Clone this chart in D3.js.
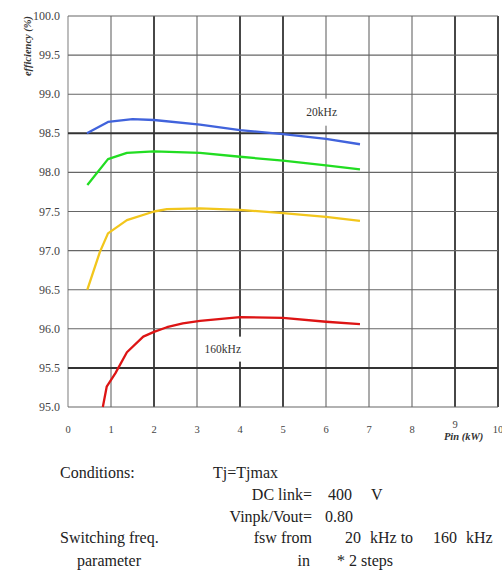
<!DOCTYPE html>
<meta charset="utf-8">
<style>
  body { margin: 0; background: #fff; }
</style>
<body>
<script src="https://cdnjs.cloudflare.com/ajax/libs/d3/7.8.5/d3.min.js"></script>
<script>
  // data
  var xTicks = [0, 1, 2, 3, 4, 5, 6, 7, 8, 9, 10];
  var yTicks = [95.0, 95.5, 96.0, 96.5, 97.0, 97.5, 98.0, 98.5, 99.0, 99.5, 100.0];
  var darkX = [2, 4, 5, 9, 10];
  var darkY = [98.5, 95.5];

  var pin20 = [0.44, 0.93, 1.5, 2.0, 3.07, 4.0, 5.0, 6.0, 6.79];
  var eff20 = [98.50, 98.645, 98.68, 98.67, 98.61, 98.54, 98.49, 98.43, 98.36];

  var pin40 = [0.45, 0.93, 1.37, 2.0, 3.07, 4.0, 5.0, 6.0, 6.79];
  var eff40 = [97.84, 98.17, 98.25, 98.27, 98.25, 98.20, 98.15, 98.09, 98.04];

  var pin80 = [0.45, 0.74, 0.93, 1.37, 2.0, 2.3, 3.07, 4.0, 5.0, 6.0, 6.79];
  var eff80 = [96.50, 96.98, 97.22, 97.39, 97.50, 97.53, 97.54, 97.52, 97.48, 97.43, 97.38];

  var pin160 = [0.81, 0.9, 1.1, 1.37, 1.75, 2.0, 2.3, 2.67, 3.07, 4.0, 5.0, 6.0, 6.79];
  var eff160 = [95.0, 95.26, 95.43, 95.70, 95.90, 95.96, 96.02, 96.07, 96.10, 96.15, 96.14, 96.09, 96.06];

  var series = [
    { name: "20kHz", pin: pin20, eff: eff20, color: "#4163dc" },
    { name: "40kHz", pin: pin40, eff: eff40, color: "#22dd22" },
    { name: "80kHz", pin: pin80, eff: eff80, color: "#f2c61c" },
    { name: "160kHz", pin: pin160, eff: eff160, color: "#dd1414" }
  ];

  var serif = "'Liberation Serif', 'DejaVu Serif', serif";

  var margin = { top: 16, left: 68 },
    width = 430, height = 391;

  var x = d3.scaleLinear().domain([0, 10]).range([0, width]);
  var y = d3.scaleLinear().domain([95, 100]).range([height, 0]);

  var svg = d3.select("body").append("svg")
    .attr("width", 502).attr("height", 574)
    .attr("font-family", serif);
  var g = svg.append("g")
    .attr("transform", "translate(" + margin.left + "," + margin.top + ")");

  // grid
  g.selectAll(".vgrid").data(xTicks).enter().append("line")
    .attr("x1", d => x(d)).attr("x2", d => x(d))
    .attr("y1", 0).attr("y2", height)
    .attr("stroke", d => darkX.indexOf(d) >= 0 ? "#333" : (d === 0 ? "#888" : "#666"))
    .attr("stroke-width", d => darkX.indexOf(d) >= 0 ? 1.8 : 1.1);
  g.selectAll(".hgrid").data(yTicks).enter().append("line")
    .attr("x1", 0).attr("x2", width)
    .attr("y1", d => y(d)).attr("y2", d => y(d))
    .attr("stroke", d => darkY.indexOf(d) >= 0 ? "#333" : "#666")
    .attr("stroke-width", d => darkY.indexOf(d) >= 0 ? 2 : 1.1);

  // curves
  var line = d3.line().x(d => x(d[0])).y(d => y(d[1]));
  series.forEach(function (s) {
    g.append("path")
      .datum(d3.zip(s.pin, s.eff))
      .attr("fill", "none")
      .attr("stroke", s.color)
      .attr("stroke-width", 2.3)
      .attr("stroke-linejoin", "round")
      .attr("d", line);
  });

  // in-plot labels with white boxes
  function boxLabel(txt, cx, cy, bw, bh) {
    g.append("rect").attr("x", x(cx) - bw / 2).attr("y", y(cy) - bh / 2)
      .attr("width", bw).attr("height", bh).attr("fill", "#fff");
    g.append("text").attr("x", x(cx)).attr("y", y(cy) + 4)
      .attr("text-anchor", "middle").attr("font-size", 11.5).attr("fill", "#333")
      .text(txt);
  }
  boxLabel("20kHz", 5.9, 98.77, 40, 27);
  boxLabel("160kHz", 3.6, 95.74, 42, 25);

  // y tick labels
  g.selectAll(".ylab").data(yTicks).enter().append("text")
    .attr("x", -8).attr("y", d => y(d) + 4)
    .attr("text-anchor", "end").attr("font-size", 12).attr("fill", "#444")
    .text(d => d.toFixed(1));

  // x tick labels
  g.selectAll(".xlab").data(xTicks).enter().append("text")
    .attr("x", d => x(d)).attr("y", d => height + (d === 9 ? 21 : 26))
    .attr("text-anchor", "middle").attr("font-size", 10.5).attr("fill", "#444")
    .text(d => d);

  g.append("text").attr("x", x(9.2)).attr("y", height + 33)
    .attr("text-anchor", "middle").attr("font-size", 10.5)
    .attr("font-style", "italic").attr("font-weight", "bold").attr("fill", "#333")
    .text("Pin (kW)");

  svg.append("text")
    .attr("transform", "translate(31,46) rotate(-90)")
    .attr("text-anchor", "middle").attr("font-size", 10.5)
    .attr("font-style", "italic").attr("font-weight", "bold").attr("fill", "#333")
    .text("efficiency (%)");

  // conditions block
  var cond = svg.append("g").attr("font-size", 16);
  function t(txt, tx, ty, anchor) {
    cond.append("text").attr("x", tx).attr("y", ty)
      .attr("text-anchor", anchor || "start").attr("fill", "#222").text(txt);
  }
  t("Conditions:", 60, 478);
  t("Tj=Tjmax", 213, 478);
  t("DC link=", 312, 500, "end");
  t("400", 328, 500);
  t("V", 371, 500);
  t("Vinpk/Vout=", 312, 522, "end");
  t("0.80", 325, 522);
  t("Switching freq.", 60, 543);
  t("fsw from", 312, 543, "end");
  t("20", 361, 543, "end");
  t("kHz to", 370, 543);
  t("160", 433, 543);
  t("kHz", 466, 543);
  t("parameter", 77, 566);
  t("in", 310, 566, "end");
  t("* 2 steps", 337, 566);
</script>
</body>
